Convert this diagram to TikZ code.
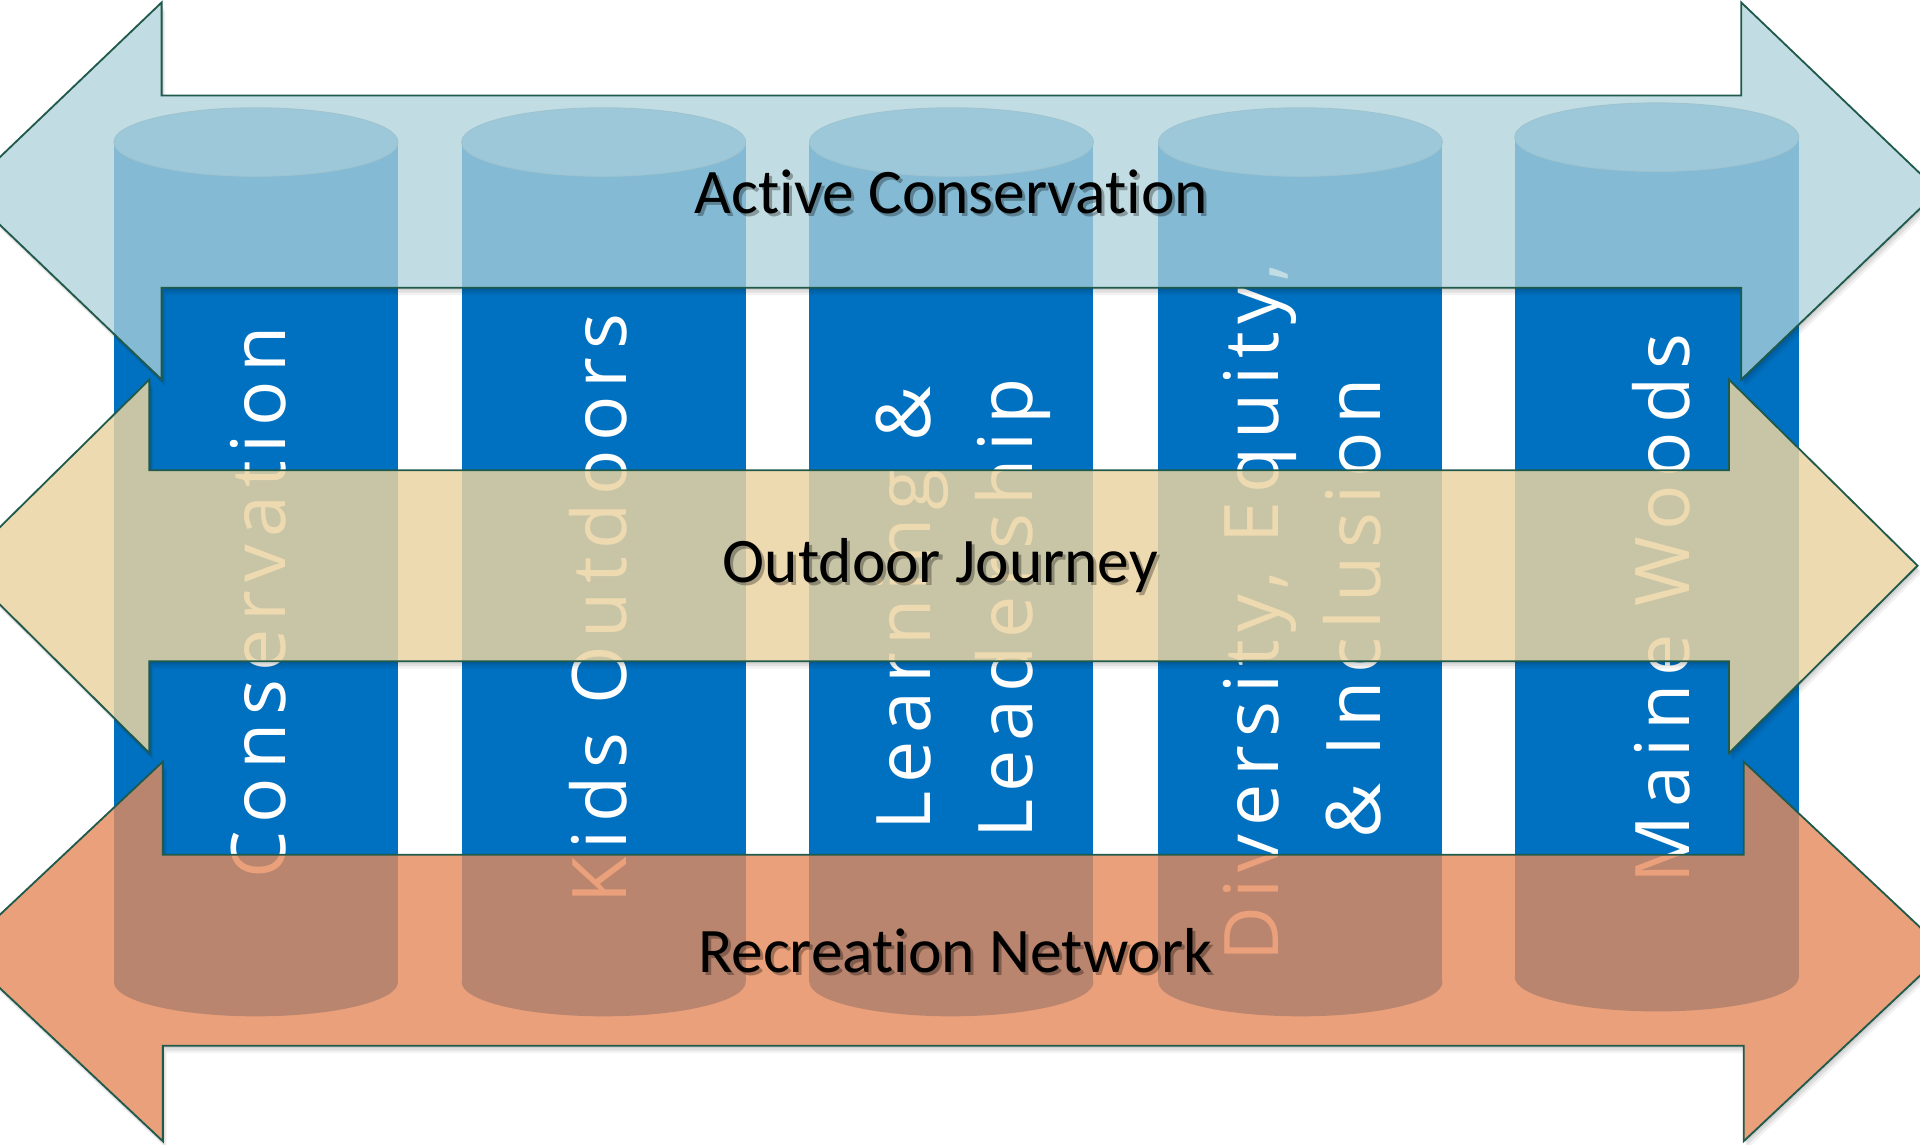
\documentclass[tikz,border=0pt]{standalone}
\usepackage{fontspec}
\newfontfamily\pillarfont[LetterSpace=10.5]{Open Sans}
\newfontfamily\bandfont[Ligatures=NoCommon]{Carlito}
\definecolor{cylblue}{RGB}{0,112,192}
\definecolor{cyltop}{RGB}{102,169,214}
\definecolor{cyledge}{RGB}{110,150,175}
\definecolor{arrline}{RGB}{31,90,75}
\definecolor{topband}{RGB}{174,210,218}
\definecolor{midband}{RGB}{236,212,163}
\definecolor{lowband}{RGB}{230,138,92}
\newcommand\pillarshape[3]{%
  \fill[cylblue] (#1-116,#2) rectangle (#1+116,#3);
  \fill[cylblue] (#1,#3) ellipse [x radius=116, y radius=28];
  \filldraw[fill=cyltop, draw=cyledge, line width=0.4pt] (#1,#2) ellipse [x radius=116, y radius=28];
}
% soft drop shadow of a band, drawn only outside the band itself
% (outer frame runs the opposite way round to the band, so the band is cut out)
\newcommand\bandshade[1]{%
  \begin{scope}
    \clip (-200,-200) -- (-200,1200) -- (1800,1200) -- (1800,-200) -- cycle
      [#1];
    \fill[black, opacity=0.07, shift={(1,2)}, #1];
    \fill[black, opacity=0.07, shift={(2,4)}, #1];
    \fill[black, opacity=0.05, shift={(3,6)}, #1];
  \end{scope}
}
\begin{document}
\begin{tikzpicture}[x=0.02cm,y=-0.02cm,
  pillartext/.style={rotate=90, anchor=base, inner sep=0pt, text=white,
    font=\pillarfont\fontsize{35}{42}\selectfont},
  bandtext/.style={inner sep=0pt, text=black, font=\bandfont\fontsize{29.5}{36}\selectfont},
  bandshadow/.style={bandtext, text=black, opacity=0.3},
  band/.style={draw=arrline, line width=0.85pt, line join=miter},
  topband/.style={band, fill=topband, fill opacity=0.76},
  midband/.style={band, fill=midband, fill opacity=0.85},
  lowband/.style={band, fill=lowband, fill opacity=0.81},
  toppath/.style={insert path={(132,2) -- (132,78) -- (1422,78) -- (1422,2) -- (1583,156)
    -- (1422,310) -- (1422,235) -- (132,235) -- (132,310) -- (-29,156) -- cycle}},
  midpath/.style={insert path={(122,310) -- (122,384) -- (1412,384) -- (1412,310) -- (1566,462)
    -- (1412,615) -- (1412,540) -- (122,540) -- (122,615) -- (-32,462) -- cycle}},
  lowpath/.style={insert path={(133,622) -- (133,698) -- (1424,698) -- (1424,622) -- (1589,777)
    -- (1424,932) -- (1424,854) -- (133,854) -- (133,932) -- (-32,777) -- cycle}}]
\useasboundingbox (0,0) rectangle (1568,935);
\fill[white] (0,0) rectangle (1568,935);
\clip (0,0) rectangle (1568,935);

% pillars (cylinders)
\pillarshape{209}{116}{802}
\pillarshape{493}{116}{802}
\pillarshape{777}{116}{802}
\pillarshape{1062}{116}{802}
\pillarshape{1353}{112}{798}

% pillar labels
\node[pillartext] (p1) at (233,492) {Conservation};
\node[pillartext] (p2) at (512,497) {Kids Outdoors};
\node[pillartext] (p3a) at (760,497) {Learning \&};
\node[pillartext] (p3b) at (843,497) {Leadership};
\node[pillartext] (p4a) at (1044,500) {Diversity, Equity,};
\node[pillartext] (p4b) at (1127,497) {\& Inclusion};
\node[pillartext] (p5) at (1380,497) {Maine Woods};

% bands (double arrows)
\bandshade{toppath}
\draw[topband, toppath];
\bandshade{midpath}
\draw[midband, midpath];
\bandshade{lowpath}
\draw[lowband, lowpath];

% band labels
\node[bandshadow] at (779.5,159.5) {Active Conservation};
\node[bandtext] (b1) at (777,157) {Active Conservation};
\node[bandshadow] at (770.5,464.5) {Outdoor Journey};
\node[bandtext] (b2) at (768,462) {Outdoor Journey};
\node[bandshadow] at (782.5,778.5) {Recreation Network};
\node[bandtext] (b3) at (780,776) {Recreation Network};
\end{tikzpicture}
\end{document}
